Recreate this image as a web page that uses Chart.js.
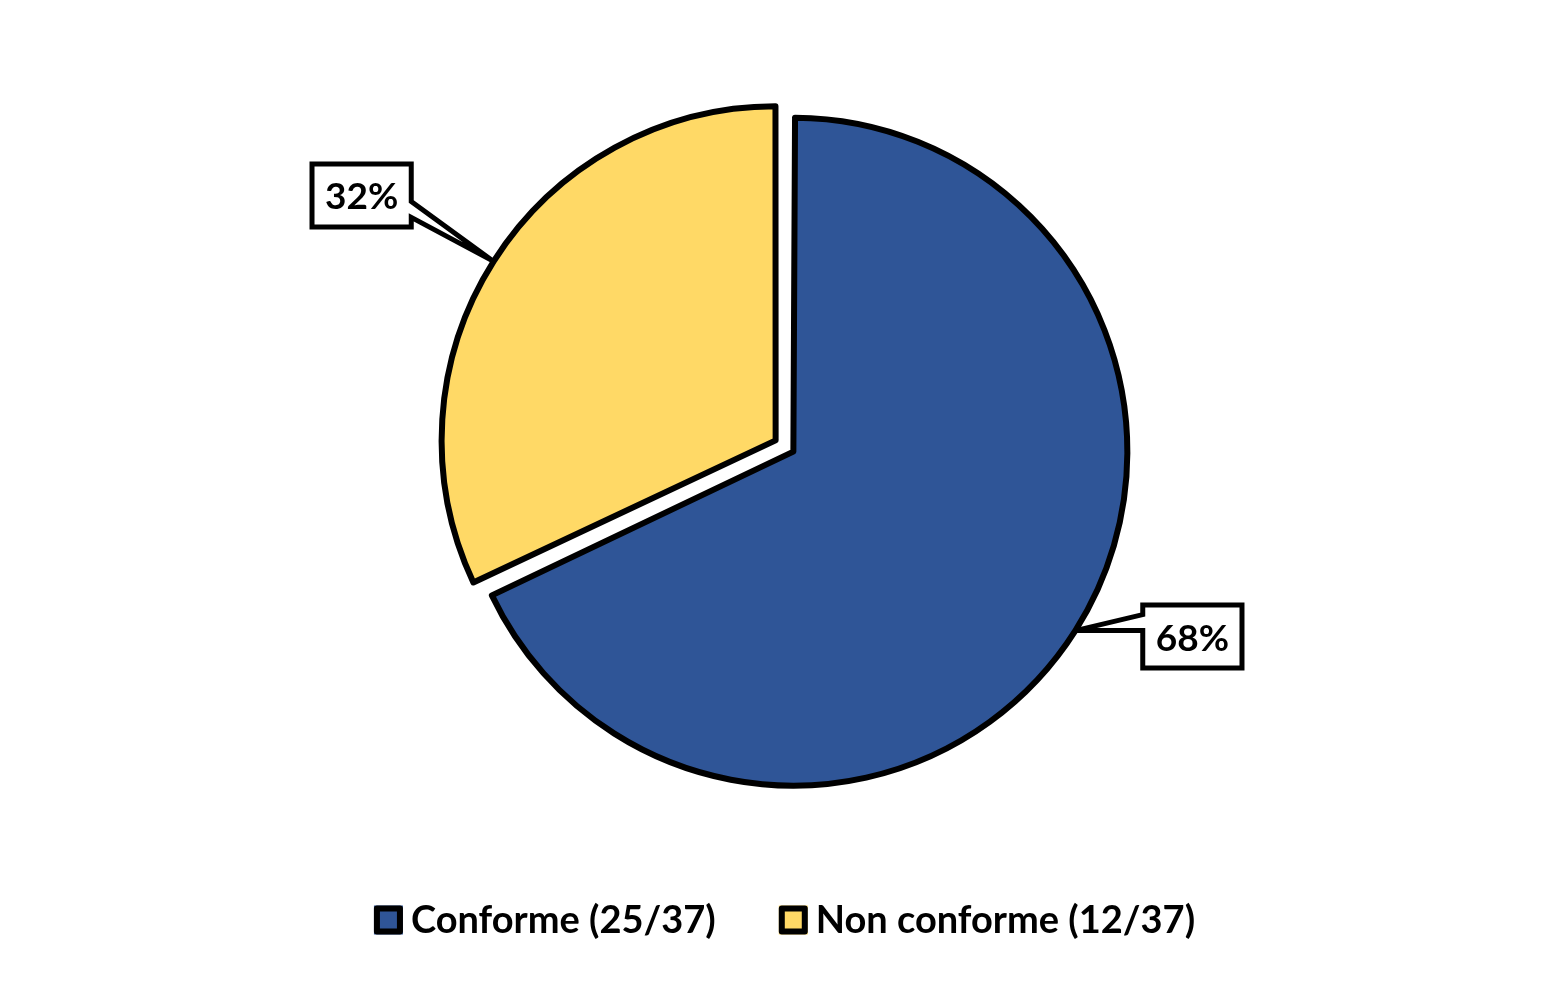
<!DOCTYPE html>
<html>
<head>
<meta charset="utf-8">
<title>Conformité</title>
<script src="https://cdn.jsdelivr.net/npm/chart.js@4.4.1/dist/chart.umd.min.js"></script>
<style>
    html, body { margin: 0; padding: 0; background: #fff; }
    #wrap { width: 1553px; height: 987px; position: relative; }
</style>
</head>
<body>
<div id="wrap"><canvas id="pieChart"></canvas></div>
<script>
// Data
const categories = ['Conforme', 'Non conforme'];
const percents = [68, 32];
const counts = [25, 12];
const sliceColors = ['#2F5597', '#FFD966'];

const total = counts.reduce((a, b) => a + b, 0);
const FONT = 'Lato, "Open Sans", sans-serif';
const RADIUS = 334;

// Chart.js grows an exploded arc's radius; keep every slice at the same radius
const explodeFix = {
    id: 'explodeFix',
    beforeDatasetsDraw(chart) {
        chart.getDatasetMeta(0).data.forEach(arc => {
            const off = (arc.options.offset || 0) / 4;
            const fix = 1 - Math.sin(Math.min(Math.PI, arc.circumference));
            arc.outerRadius = RADIUS - off * fix;
        });
    }
};

// Percentage labels in boxed callouts pointing at each slice
const callouts = {
    id: 'callouts',
    afterDatasetsDraw(chart, args, opts) {
        const ctx = chart.ctx;
        const values = chart.data.datasets[0].data;
        ctx.save();
        ctx.font = `bold ${opts.fontSize}px ${FONT}`;
        chart.getDatasetMeta(0).data.forEach((arc, i) => {
            const mid = (arc.startAngle + arc.endAngle) / 2;
            const off = (arc.options.offset || 0) / 4;
            const cx = arc.x + Math.cos(mid) * off;
            const cy = arc.y + Math.sin(mid) * off;
            const tx = cx + Math.cos(mid) * RADIUS;
            const ty = cy + Math.sin(mid) * RADIUS;
            const label = values[i] + '%';
            const lx = tx + opts.shifts[i][0];
            const ly = ty + opts.shifts[i][1];
            const w = ctx.measureText(label).width + 26;
            const h = 63;
            const bx = lx - w / 2, by = ly - h / 2;
            const dir = ty < ly ? -1 : 1;
            const ya = ly + dir * 6, yb = ly + dir * 22;

            ctx.beginPath();
            ctx.moveTo(bx, by);
            ctx.lineTo(bx + w, by);
            if (tx > bx + w) {
                ctx.lineTo(bx + w, Math.min(ya, yb));
                ctx.lineTo(tx, ty);
                ctx.lineTo(bx + w, Math.max(ya, yb));
            }
            ctx.lineTo(bx + w, by + h);
            ctx.lineTo(bx, by + h);
            if (tx < bx) {
                ctx.lineTo(bx, Math.max(ya, yb));
                ctx.lineTo(tx, ty);
                ctx.lineTo(bx, Math.min(ya, yb));
            }
            ctx.closePath();
            ctx.fillStyle = '#fff';
            ctx.fill();
            ctx.lineWidth = 5;
            ctx.lineJoin = 'miter';
            ctx.miterLimit = 3;
            ctx.strokeStyle = '#000';
            ctx.stroke();

            ctx.fillStyle = '#000';
            ctx.textAlign = 'center';
            ctx.textBaseline = 'middle';
            ctx.fillText(label, lx, ly + 2);
        });
        ctx.restore();
    }
};

// Legend under the pie
const bottomLegend = {
    id: 'bottomLegend',
    afterDraw(chart, args, opts) {
        const ctx = chart.ctx;
        const ds = chart.data.datasets[0];
        ctx.save();
        ctx.font = `bold ${opts.fontSize}px ${FONT}`;
        const items = chart.data.labels.map((lab, i) => ({
            text: `${lab} (${counts[i]}/${total})`,
            color: ds.backgroundColor[i]
        }));
        const widths = items.map(it => opts.box + opts.gap + ctx.measureText(it.text).width);
        const full = widths.reduce((a, b) => a + b, 0) + opts.spacing * (items.length - 1);
        let x = (chart.chartArea.left + chart.chartArea.right) / 2 - full / 2;
        const y = chart.height - opts.fromBottom;
        items.forEach((it, i) => {
            const b = opts.box, lw = 6;
            ctx.fillStyle = it.color;
            ctx.fillRect(x, y - b / 2, b, b);
            ctx.lineWidth = lw;
            ctx.strokeStyle = '#000';
            ctx.lineJoin = 'round';
            ctx.strokeRect(x + lw / 2, y - b / 2 + lw / 2, b - lw, b - lw);
            ctx.fillStyle = '#000';
            ctx.textAlign = 'left';
            ctx.textBaseline = 'middle';
            ctx.fillText(it.text, x + b + opts.gap, y + 1);
            x += widths[i] + opts.spacing;
        });
        ctx.restore();
    }
};

document.addEventListener('DOMContentLoaded', () => {
    const ctx = document.getElementById('pieChart').getContext('2d');
    new Chart(ctx, {
        type: 'pie',
        data: {
            labels: categories,
            datasets: [{
                data: percents,
                backgroundColor: sliceColors,
                borderColor: '#000000',
                borderWidth: 6,
                borderJoinStyle: 'round',
                offset: 42,
                hoverOffset: 42
            }]
        },
        options: {
            responsive: true,
            maintainAspectRatio: false,
            animation: false,
            events: [],
            radius: RADIUS,
            layout: { padding: { left: 16, right: 0, top: 0, bottom: 95 } },
            plugins: {
                legend: { display: false },
                tooltip: { enabled: false },
                callouts: { fontSize: 37, shifts: [[117, 6], [-132, -66]] },
                bottomLegend: { fontSize: 38, box: 29, gap: 8, spacing: 63, fromBottom: 67 }
            }
        },
        plugins: [explodeFix, callouts, bottomLegend]
    });
});
</script>
</body>
</html>
